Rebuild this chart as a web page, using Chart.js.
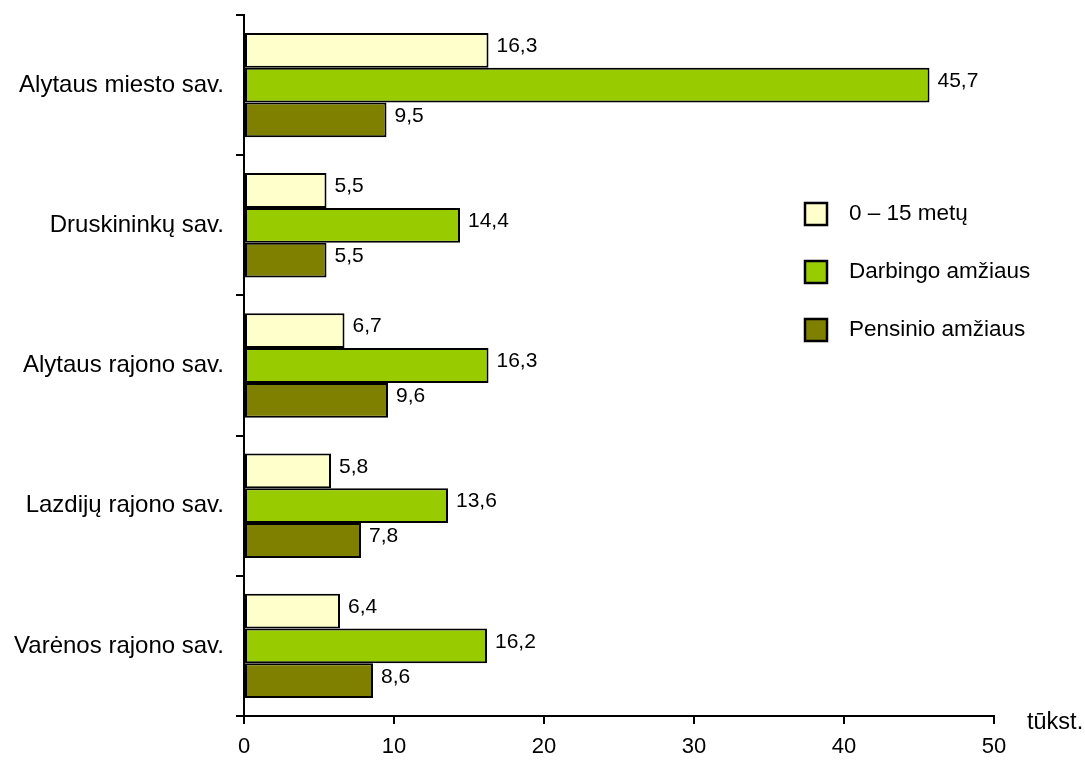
<!DOCTYPE html>
<html>
<head>
<meta charset="utf-8">
<script src="https://cdn.jsdelivr.net/npm/chart.js@4/dist/chart.umd.min.js"></script>
<style>
  html, body { margin: 0; padding: 0; background: #fff; }
  #wrap { width: 1085px; height: 761px; }
</style>
</head>
<body>
<div id="wrap"><canvas id="chart" width="1085" height="761"></canvas></div>
<script>
const categories = [
  "Alytaus miesto sav.",
  "Druskininkų sav.",
  "Alytaus rajono sav.",
  "Lazdijų rajono sav.",
  "Varėnos rajono sav.",
];
const seriesNames = ["0 – 15 metų", "Darbingo amžiaus", "Pensinio amžiaus"];
const youngValues = [16.3, 5.5, 6.7, 5.8, 6.4];
const workingValues = [45.7, 14.4, 16.3, 13.6, 16.2];
const retiredValues = [9.5, 5.5, 9.6, 7.8, 8.6];
const xTicks = [0, 10, 20, 30, 40, 50];
const unitLabel = "tūkst.";

const colors = ["#FFFFCC", "#99CC00", "#808000"];
const FONT = "'Liberation Sans', Arial, sans-serif";

// value labels at the end of each bar
const valueLabels = {
  id: "valueLabels",
  afterDatasetsDraw(chart) {
    const ctx = chart.ctx;
    ctx.save();
    ctx.font = "21px " + FONT;
    ctx.fillStyle = "#000";
    ctx.textBaseline = "middle";
    ctx.textAlign = "left";
    chart.data.datasets.forEach((ds, i) => {
      chart.getDatasetMeta(i).data.forEach((bar, j) => {
        const txt = ds.data[j].toFixed(1).replace(".", ",");
        ctx.fillText(txt, bar.x + 8, bar.y - 4);
      });
    });
    ctx.restore();
  },
};

// legend on the right side and the unit label
const sideLegend = {
  id: "sideLegend",
  afterDraw(chart) {
    const ctx = chart.ctx;
    ctx.save();
    ctx.font = "22.5px " + FONT;
    ctx.textBaseline = "middle";
    chart.data.datasets.forEach((ds, i) => {
      const y = 214 + i * 58;
      ctx.fillStyle = ds.backgroundColor;
      ctx.fillRect(805, y - 11, 22, 22);
      ctx.strokeStyle = "#000";
      ctx.lineWidth = 2.5;
      ctx.strokeRect(805, y - 11, 22, 22);
      ctx.fillStyle = "#000";
      ctx.fillText(ds.label, 849, y);
    });
    ctx.font = "23.5px " + FONT;
    ctx.fillText(unitLabel, 1027, 723);
    ctx.restore();
  },
};

new Chart(document.getElementById("chart").getContext("2d"), {
  type: "bar",
  data: {
    labels: categories,
    datasets: [
      { label: seriesNames[0], data: youngValues, backgroundColor: colors[0] },
      { label: seriesNames[1], data: workingValues, backgroundColor: colors[1] },
      { label: seriesNames[2], data: retiredValues, backgroundColor: colors[2] },
    ].map((d) => ({
      ...d,
      borderColor: "#000",
      borderWidth: 2,
      borderSkipped: false,
      categoryPercentage: 0.745,
      barPercentage: 1.0,
    })),
  },
  plugins: [valueLabels, sideLegend],
  options: {
    indexAxis: "y",
    responsive: false,
    animation: false,
    devicePixelRatio: 1,
    layout: { padding: { top: 15, right: 91, left: 0, bottom: 0 } },
    plugins: { legend: { display: false }, tooltip: { enabled: false } },
    scales: {
      x: {
        min: 0,
        max: 50,
        afterBuildTicks(scale) {
          scale.ticks = xTicks.map((v) => ({ value: v }));
        },
        afterFit(scale) { scale.height = 45; },
        border: { color: "#000", width: 2 },
        grid: { drawOnChartArea: false, color: "#000", lineWidth: 2, tickLength: 8 },
        ticks: { color: "#000", font: { size: 22, family: FONT }, padding: 10 },
      },
      y: {
        afterFit(scale) {
          scale.width = 244;
          scale.paddingTop = 0;
          scale.paddingBottom = 0;
        },
        border: { color: "#000", width: 2 },
        grid: { drawOnChartArea: false, color: "#000", lineWidth: 2, tickLength: 8, offset: true },
        ticks: { color: "#000", font: { size: 24, family: FONT }, padding: 12 },
      },
    },
  },
});
</script>
</body>
</html>
